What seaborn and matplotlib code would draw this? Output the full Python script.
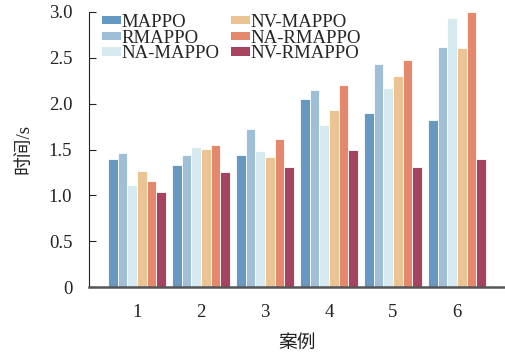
import numpy as np
import pandas as pd
import matplotlib
matplotlib.use("Agg")
import matplotlib.pyplot as plt
import seaborn as sns
from matplotlib.ticker import FuncFormatter

cases = ["1", "2", "3", "4", "5", "6"]
methods = ["MAPPO", "RMAPPO", "NA-MAPPO", "NV-MAPPO", "NA-RMAPPO", "NV-RMAPPO"]
mappo = [1.40, 1.33, 1.44, 2.05, 1.90, 1.82]
rmappo = [1.46, 1.44, 1.72, 2.15, 2.43, 2.62]
na_mappo = [1.11, 1.53, 1.48, 1.77, 2.17, 2.93]
nv_mappo = [1.27, 1.51, 1.42, 1.93, 2.30, 2.61]
na_rmappo = [1.16, 1.55, 1.61, 2.20, 2.48, 3.00]
nv_rmappo = [1.04, 1.26, 1.31, 1.50, 1.31, 1.40]
colors = ["#6699c2", "#9fbfd9", "#d6eaf0", "#ecc494", "#e3886c", "#a6435e"]

series = [mappo, rmappo, na_mappo, nv_mappo, na_rmappo, nv_rmappo]
rows = []
for m, vals in zip(methods, series):
    for c, v in zip(cases, vals):
        rows.append({"case": c, "time": v, "method": m})
df = pd.DataFrame(rows)

sns.set_style("ticks")
plt.rcParams["font.family"] = ["Liberation Serif", "Noto Sans CJK SC"]

FS = 13.5
fig = plt.figure(figsize=(5.06, 3.56), dpi=100)
ax = fig.add_axes([89/506, 1-287/356, (505-89)/506, (287-12)/356])
sns.barplot(data=df, x="case", y="time", hue="method", order=cases,
            hue_order=methods, palette=colors, width=0.9, saturation=1,
            edgecolor="white", linewidth=0.6, ax=ax)

ax.set_xlim(-0.75, 5.75)
ax.set_ylim(0, 3.0)
ax.set_yticks(np.arange(0, 3.01, 0.5))
ax.yaxis.set_major_formatter(FuncFormatter(lambda v, p: "0" if v == 0 else f"{v:.1f}"))
ax.tick_params(axis="y", direction="in", length=5, width=0.8, labelsize=FS, colors="#222222", pad=12)
ax.tick_params(axis="x", direction="in", length=4, width=1.0, labelsize=FS, colors="#222222", pad=12)
for s in ["top", "right"]:
    ax.spines[s].set_visible(False)
ax.spines["left"].set_color("#222222")
ax.spines["left"].set_linewidth(0.8)
ax.spines["bottom"].set_color("#555555")
ax.spines["bottom"].set_linewidth(1.8)

ax.set_xlabel("案例", fontsize=FS, color="#222222", labelpad=10)
ax.set_ylabel("时间/s", fontsize=FS, color="#222222", labelpad=12)

leg = ax.legend(loc="upper left", ncol=2, frameon=False, fontsize=FS,
                bbox_to_anchor=(0.0, 1.041), handlelength=1.0, handleheight=0.3,
                handletextpad=0.05, columnspacing=0.6, labelspacing=-0.07,
                borderaxespad=0.3)
for h in leg.legend_handles:
    h.set_edgecolor("none")

fig.savefig("out.png", dpi=100)
